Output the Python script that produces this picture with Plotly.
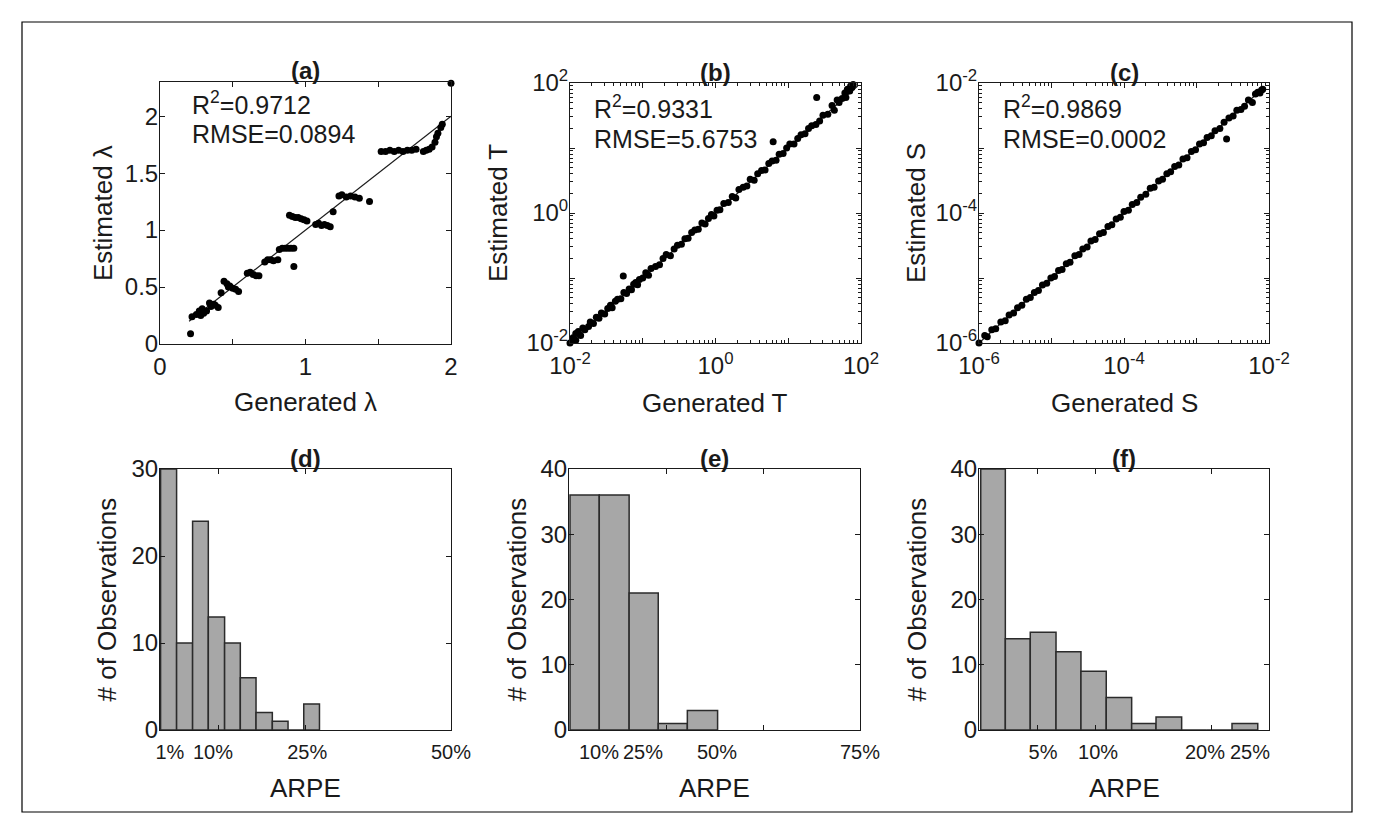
import plotly.graph_objects as go

# page is 1373x834; the html body adds an 8px margin, so the figure is drawn 8px in
OFF = 8
W, H = 1373 - 2 * OFF, 834 - 2 * OFF
FONT = "Liberation Sans, Arial, sans-serif"
INK = "#1a1a1a"

# ---------------- data ----------------
# (a) lambda
gen_a = [0.21, 0.22, 0.25, 0.27, 0.28, 0.29, 0.30, 0.32, 0.34, 0.35, 0.37, 0.38, 0.40,
         0.42, 0.44, 0.46, 0.47, 0.48, 0.50, 0.52, 0.54, 0.60, 0.62, 0.64, 0.66, 0.68,
         0.72, 0.74, 0.76, 0.78, 0.81, 0.82, 0.84, 0.86, 0.88, 0.90, 0.92, 0.92, 0.89,
         0.91, 0.93, 0.95, 0.97, 0.99, 1.01, 1.07, 1.09, 1.11, 1.13, 1.15, 1.17, 1.19,
         1.23, 1.25, 1.28, 1.31, 1.34, 1.37, 1.44, 1.52, 1.55, 1.58, 1.61, 1.64, 1.67,
         1.70, 1.73, 1.76, 1.81, 1.83, 1.85, 1.87, 1.89, 1.90, 1.91, 1.93, 1.94, 2.00]
est_a = [0.09, 0.24, 0.26, 0.29, 0.25, 0.31, 0.27, 0.29, 0.36, 0.33, 0.35, 0.34, 0.32,
         0.45, 0.55, 0.53, 0.50, 0.51, 0.49, 0.48, 0.46, 0.62, 0.63, 0.61, 0.60, 0.60,
         0.72, 0.74, 0.74, 0.73, 0.74, 0.83, 0.84, 0.84, 0.84, 0.84, 0.84, 0.68, 1.13,
         1.12, 1.11, 1.11, 1.10, 1.09, 1.08, 1.05, 1.06, 1.04, 1.05, 1.04, 1.03, 1.16,
         1.30, 1.31, 1.29, 1.30, 1.29, 1.28, 1.25, 1.69, 1.69, 1.70, 1.69, 1.70, 1.69,
         1.70, 1.70, 1.71, 1.69, 1.70, 1.71, 1.73, 1.77, 1.82, 1.85, 1.90, 1.93, 2.29]
line_a = [0.2, 2.0]

# (b) T
gen_b = [0.010, 0.011, 0.012, 0.012, 0.013, 0.014, 0.015, 0.016, 0.018, 0.019, 0.021,
         0.023, 0.025, 0.027, 0.030, 0.033, 0.036, 0.038, 0.042, 0.045, 0.050, 0.054,
         0.055, 0.060, 0.065, 0.070, 0.075, 0.080, 0.085, 0.090, 0.10, 0.11, 0.12, 0.13,
         0.15, 0.17, 0.19, 0.21, 0.24, 0.27, 0.30, 0.34, 0.38, 0.42, 0.47, 0.52, 0.58,
         0.65, 0.72, 0.80, 0.88, 0.95, 1.05, 1.15, 1.3, 1.5, 1.7, 1.9, 2.1, 2.4, 2.7,
         3.0, 3.4, 3.8, 4.3, 4.8, 5.4, 6.2, 6.0, 6.8, 7.5, 8.5, 9.5, 10.5, 12, 13.5, 15,
         17, 19, 21, 24.6, 24, 27, 30, 35, 40, 43, 47, 50, 55, 60, 62, 65, 70, 72, 75, 78]
est_b = [0.010, 0.012, 0.011, 0.014, 0.015, 0.013, 0.017, 0.016, 0.018, 0.021, 0.020,
         0.025, 0.024, 0.029, 0.028, 0.034, 0.038, 0.035, 0.044, 0.047, 0.048, 0.107,
         0.060, 0.058, 0.068, 0.066, 0.080, 0.085, 0.079, 0.095, 0.10, 0.12, 0.11, 0.14,
         0.15, 0.16, 0.20, 0.23, 0.22, 0.28, 0.32, 0.33, 0.40, 0.41, 0.50, 0.55, 0.56,
         0.70, 0.68, 0.82, 0.95, 0.90, 1.10, 1.12, 1.4, 1.45, 1.8, 1.7, 2.3, 2.5, 2.6,
         3.3, 3.2, 4.0, 4.5, 4.6, 5.8, 12.5, 6.3, 6.5, 8.0, 8.2, 10.0, 11.5, 11.5, 14, 16,
         16.5, 20, 22, 60, 23, 26, 32, 33, 45, 38, 55, 50, 58, 70, 60, 80, 75, 90, 85, 95]
line_b = [0.01, 90]

# (c) S
gen_c = [1.0e-6, 1.2e-6, 1.3e-6, 1.5e-6, 1.7e-6, 2.0e-6, 2.3e-6, 2.6e-6, 3.0e-6, 3.4e-6,
         3.9e-6, 4.5e-6, 5.1e-6, 5.8e-6, 6.6e-6, 7.5e-6, 8.6e-6, 9.8e-6, 1.1e-5, 1.25e-5,
         1.4e-5, 1.6e-5, 1.8e-5, 2.1e-5, 2.4e-5, 2.7e-5, 3.1e-5, 3.5e-5, 4.0e-5, 4.6e-5,
         5.2e-5, 6.0e-5, 6.8e-5, 7.8e-5, 8.9e-5, 1.0e-4, 1.15e-4, 1.3e-4, 1.5e-4, 1.7e-4,
         2.0e-4, 2.3e-4, 2.6e-4, 3.0e-4, 3.4e-4, 3.9e-4, 4.4e-4, 5.0e-4, 5.7e-4, 6.5e-4,
         7.4e-4, 8.5e-4, 9.7e-4, 1.1e-3, 1.25e-3, 1.4e-3, 1.6e-3, 1.8e-3, 2.1e-3, 2.4e-3,
         2.6e-3, 2.8e-3, 3.2e-3, 3.6e-3, 4.1e-3, 4.6e-3, 5.2e-3, 5.9e-3, 6.5e-3, 7.0e-3,
         7.5e-3, 7.9e-3, 8.2e-3]
est_c = [1.0e-6, 1.3e-6, 1.25e-6, 1.6e-6, 1.65e-6, 2.1e-6, 2.2e-6, 2.7e-6, 2.9e-6, 3.5e-6,
         3.8e-6, 4.7e-6, 5.0e-6, 6.0e-6, 6.4e-6, 7.8e-6, 8.3e-6, 1.0e-5, 1.05e-5, 1.3e-5,
         1.35e-5, 1.65e-5, 1.75e-5, 2.2e-5, 2.3e-5, 2.8e-5, 3.0e-5, 3.7e-5, 3.9e-5, 4.8e-5,
         5.0e-5, 6.2e-5, 6.6e-5, 8.1e-5, 8.6e-5, 1.05e-4, 1.1e-4, 1.35e-4, 1.45e-4, 1.75e-4,
         1.95e-4, 2.4e-4, 2.5e-4, 3.1e-4, 3.3e-4, 4.0e-4, 4.3e-4, 5.2e-4, 5.5e-4, 6.8e-4,
         7.1e-4, 8.8e-4, 9.4e-4, 1.15e-3, 1.2e-3, 1.45e-3, 1.55e-3, 1.85e-3, 2.0e-3, 2.5e-3,
         1.37e-3, 2.9e-3, 3.1e-3, 3.8e-3, 3.9e-3, 4.4e-3, 5.5e-3, 5.0e-3, 6.8e-3, 7.2e-3,
         7.0e-3, 7.8e-3, 8.0e-3]
line_c = [1e-6, 8e-3]

# (d)-(f) ARPE histograms: bin edges (fraction) and counts
edges_d = [0.001, 0.0285, 0.056, 0.083, 0.111, 0.138, 0.165, 0.193, 0.220, 0.247, 0.274]
counts_d = [30, 10, 24, 13, 10, 6, 2, 1, 0, 3]
edges_e = [0.0026, 0.078, 0.155, 0.230, 0.305, 0.383]
counts_e = [36, 36, 21, 1, 3]
edges_f = [0.0015, 0.0227, 0.0442, 0.0664, 0.0879, 0.1097, 0.1316, 0.1526, 0.1747,
           0.1965, 0.2181, 0.2403]
counts_f = [40, 14, 15, 12, 9, 5, 1, 2, 0, 0, 1]

# percent labels as placed in the original, and the axis tick marks
label_pos_d = [0.017, 0.091, 0.253, 0.5]
labels_d = ["1%", "10%", "25%", "50%"]
marks_d = [0.10, 0.25]
label_pos_e = [0.0773, 0.1907, 0.3814, 0.75]
labels_e = ["10%", "25%", "50%", "75%"]
marks_e = [0.25, 0.50]
label_pos_f = [0.0552, 0.1026, 0.1948, 0.2336]
labels_f = ["5%", "10%", "20%", "25%"]
marks_f = [0.05, 0.10, 0.20]

stats = [("R<sup>2</sup>=0.9712", "RMSE=0.0894"),
         ("R<sup>2</sup>=0.9331", "RMSE=5.6753"),
         ("R<sup>2</sup>=0.9869", "RMSE=0.0002")]
titles = ["(a)", "(b)", "(c)", "(d)", "(e)", "(f)"]
xtitles = ["Generated λ", "Generated T", "Generated S", "ARPE", "ARPE", "ARPE"]
ytitles = ["Estimated λ", "Estimated T", "Estimated S",
           "# of Observations", "# of Observations", "# of Observations"]

# ---------------- layout geometry (page pixels) ----------------
boxes = [(160, 451, 82, 344), (570, 861, 83, 343), (979, 1269, 83, 343),
         (160, 451, 469, 730), (569, 860, 469, 730), (979, 1269, 469, 730)]
ytitle_x = [103, 498, 916, 106, 516, 916]
xtitle_y = [402, 403, 403, 788, 788, 788]
stat_pos = [(190, 103, 134), (592, 107, 139), (1001, 107, 139)]


def fx(p):
    return (p - OFF) / W


def fy(p):
    return 1 - (p - OFF) / H


fig = go.Figure()

axis_common = dict(showline=True, linecolor=INK, linewidth=1, mirror="allticks",
                   ticks="inside", ticklen=5, tickcolor=INK, tickwidth=1,
                   showgrid=False, zeroline=False,
                   tickfont=dict(family=FONT, size=24, color=INK))

layout = dict(width=W, height=H,
              margin=dict(l=0, r=0, t=0, b=0, pad=0, autoexpand=False),
              paper_bgcolor="white", plot_bgcolor="white", showlegend=False)


def minor_log(lo, hi):
    vals = []
    for e in range(lo, hi):
        for m in range(2, 10):
            vals.append(m * 10.0 ** e)
    return vals


hist_x = {3: (0.5, label_pos_d, labels_d, marks_d, [0, 10, 20, 30], 30),
          4: (0.75, label_pos_e, labels_e, marks_e, [0, 10, 20, 30, 40], 40),
          5: (0.25, label_pos_f, labels_f, marks_f, [0, 10, 20, 30, 40], 40)}

for i, (x0, x1, y0, y1) in enumerate(boxes):
    n = "" if i == 0 else str(i + 1)
    xa = dict(axis_common, domain=[fx(x0), fx(x1)], anchor="y" + n, ticklabelstandoff=1)
    ya = dict(axis_common, domain=[fy(y1), fy(y0)], anchor="x" + n, ticklabelstandoff=-4)
    if i == 0:
        xa.update(range=[0, 2], tickvals=[0, 0.5, 1, 1.5, 2], ticktext=["0", "", "1", "", "2"])
        ya.update(range=[0, 2.3], tickvals=[0, 0.5, 1, 1.5, 2],
                  ticktext=["0", "0.5", "1", "1.5", "2"])
    elif i in (1, 2):
        lo, hi = (-2, 2) if i == 1 else (-6, -2)
        tv = [10.0 ** e for e in range(lo, hi + 1)]
        tt = ["10<sup>%d</sup>" % e if (e - lo) % 2 == 0 else "" for e in range(lo, hi + 1)]
        for a in (xa, ya):
            a.update(type="log", range=[lo, hi], tickmode="array", tickvals=tv, ticktext=tt,
                     minor=dict(ticks="inside", ticklen=3, tickcolor=INK,
                                tickmode="array", tickvals=minor_log(lo, hi)))
    else:
        xmax, lp, lt, mk, yt, ymax = hist_x[i]
        xa.update(range=[0, xmax], tickmode="array", tickvals=lp, ticktext=lt, ticklen=0,
                  tickfont=dict(family=FONT, size=20, color=INK), ticklabelstandoff=4,
                  minor=dict(ticks="inside", ticklen=5, tickcolor=INK,
                             tickmode="array", tickvals=mk))
        ya.update(range=[0, ymax], tickvals=yt)
    layout["xaxis" + n] = xa
    layout["yaxis" + n] = ya

fig.update_layout(**layout)

# scatter panels
for i, (g, e, ln) in enumerate([(gen_a, est_a, line_a), (gen_b, est_b, line_b),
                                (gen_c, est_c, line_c)]):
    n = "" if i == 0 else str(i + 1)
    fig.add_trace(go.Scatter(x=ln, y=ln, mode="lines", line=dict(color=INK, width=1.2),
                             xaxis="x" + n, yaxis="y" + n, cliponaxis=False))
    fig.add_trace(go.Scatter(x=g, y=e, mode="markers",
                             marker=dict(color="black", size=7, line=dict(width=0)),
                             xaxis="x" + n, yaxis="y" + n, cliponaxis=False))

# histograms
for i, (edges, counts) in enumerate([(edges_d, counts_d), (edges_e, counts_e),
                                     (edges_f, counts_f)]):
    n = str(i + 4)
    centers = [(edges[k] + edges[k + 1]) / 2 for k in range(len(counts))]
    widths = [edges[k + 1] - edges[k] for k in range(len(counts))]
    fig.add_trace(go.Bar(x=centers, y=counts, width=widths,
                         marker=dict(color="#a7a7a7", line=dict(color="#2b2b2b", width=1.5)),
                         xaxis="x" + n, yaxis="y" + n))

# text
ann = []
for i, (x0, x1, y0, y1) in enumerate(boxes):
    cx = (x0 + x1) / 2
    ann.append(dict(x=fx(cx), y=fy(y0 - 11), xref="paper", yref="paper",
                    text="<b>%s</b>" % titles[i], showarrow=False,
                    xanchor="center", yanchor="middle",
                    font=dict(family=FONT, size=24, color=INK)))
    ann.append(dict(x=fx(cx), y=fy(xtitle_y[i]), xref="paper", yref="paper", text=xtitles[i],
                    showarrow=False, xanchor="center", yanchor="middle",
                    font=dict(family=FONT, size=26, color=INK)))
    ann.append(dict(x=fx(ytitle_x[i]), y=fy((y0 + y1) / 2), xref="paper", yref="paper",
                    text=ytitles[i], showarrow=False, xanchor="center", yanchor="middle",
                    textangle=-90, font=dict(family=FONT, size=26, color=INK)))
for i, (sx, sy1, sy2) in enumerate(stat_pos):
    r2, rm = stats[i]
    ann.append(dict(x=fx(sx), y=fy(sy1), xref="paper", yref="paper", text=r2,
                    showarrow=False, xanchor="left", yanchor="middle",
                    font=dict(family=FONT, size=25, color=INK)))
    ann.append(dict(x=fx(sx), y=fy(sy2), xref="paper", yref="paper", text=rm,
                    showarrow=False, xanchor="left", yanchor="middle",
                    font=dict(family=FONT, size=25, color=INK)))

fig.update_layout(annotations=ann,
                  shapes=[dict(type="rect", xref="paper", yref="paper",
                               x0=fx(22), x1=fx(1352), y0=fy(812), y1=fy(22),
                               line=dict(color="black", width=1.2))])

fig.write_html("out.html")
